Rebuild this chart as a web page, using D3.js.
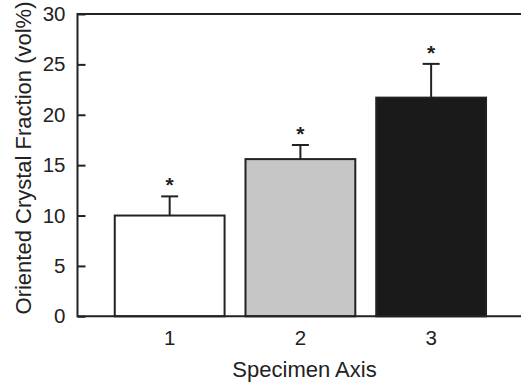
<!DOCTYPE html>
<html><head><meta charset="utf-8">
<script src="https://cdn.jsdelivr.net/npm/d3@7"></script>
<style>body{margin:0;background:#fff}svg{display:block}text{font-family:"Liberation Sans",Arial,sans-serif;fill:#222}</style>
</head><body><svg id="c" width="521" height="385"></svg>
<script>
const categories = ["1","2","3"];
const values = [10.0, 15.6, 21.7];
const errors = [1.9, 1.4, 3.35];
const fills = ["#ffffff","#c6c6c6","#1a1a1a"];
const yTicks = [0,5,10,15,20,25,30];
const sig = ["*","*","*"];

const svg = d3.select("#c");
const L = 77.5, R = 521, T = 14, B = 316.3;
const x = d3.scaleBand().domain(categories).range([104.3, 496.5]).paddingInner(0.16).paddingOuter(0.08);
const y = d3.scaleLinear().domain([0,30]).range([B, T]);
const ink = "#222";
const FF = "Liberation Sans, Arial, sans-serif";

// bars
svg.selectAll("rect.bar").data(values).join("rect")
  .attr("x",(d,i)=>x(categories[i])).attr("width",x.bandwidth())
  .attr("y",d=>y(d)).attr("height",d=>B-y(d))
  .attr("fill",(d,i)=>fills[i]).attr("stroke",ink).attr("stroke-width",2);

// error bars
const g = svg.append("g").attr("stroke",ink).attr("stroke-width",2);
values.forEach((v,i)=>{
  const cx = x(categories[i]) + x.bandwidth()/2;
  g.append("line").attr("x1",cx).attr("x2",cx).attr("y1",y(v)).attr("y2",y(v+errors[i]));
  g.append("line").attr("x1",cx-8.5).attr("x2",cx+8.5).attr("y1",y(v+errors[i])).attr("y2",y(v+errors[i]));
  svg.append("text").attr("x",cx).attr("y",y(v+errors[i])-4).attr("text-anchor","middle")
    .attr("font-size",21).attr("font-weight","bold").text(sig[i]);
});

// frame: left, top, bottom
svg.append("path").attr("d",`M${R},${T}H${L}V${B}H${R}`).attr("fill","none").attr("stroke",ink).attr("stroke-width",2);

// y axis ticks inward
const ya = d3.axisLeft(y).tickValues(yTicks).tickSizeInner(-8).tickSizeOuter(0).tickPadding(12);
const yg = svg.append("g").attr("transform",`translate(${L},0)`).call(ya);
yg.select(".domain").remove();
yg.selectAll("line").attr("stroke",ink).attr("stroke-width",2);
yg.selectAll("text").attr("font-size",20.5).attr("fill",ink).attr("font-family",FF);

// x axis labels (no ticks)
const xa = d3.axisBottom(x).tickSize(0).tickPadding(14);
const xg = svg.append("g").attr("transform",`translate(0,${B})`).call(xa);
xg.select(".domain").remove();
xg.selectAll("text").attr("font-size",20.5).attr("fill",ink).attr("font-family",FF);

// titles
svg.append("text").attr("x",304.5).attr("y",377).attr("text-anchor","middle").attr("font-size",22).text("Specimen Axis");
svg.append("text").attr("transform","translate(31,158) rotate(-90)").attr("text-anchor","middle").attr("font-size",22).text("Oriented Crystal Fraction (vol%)");
</script></body></html>
